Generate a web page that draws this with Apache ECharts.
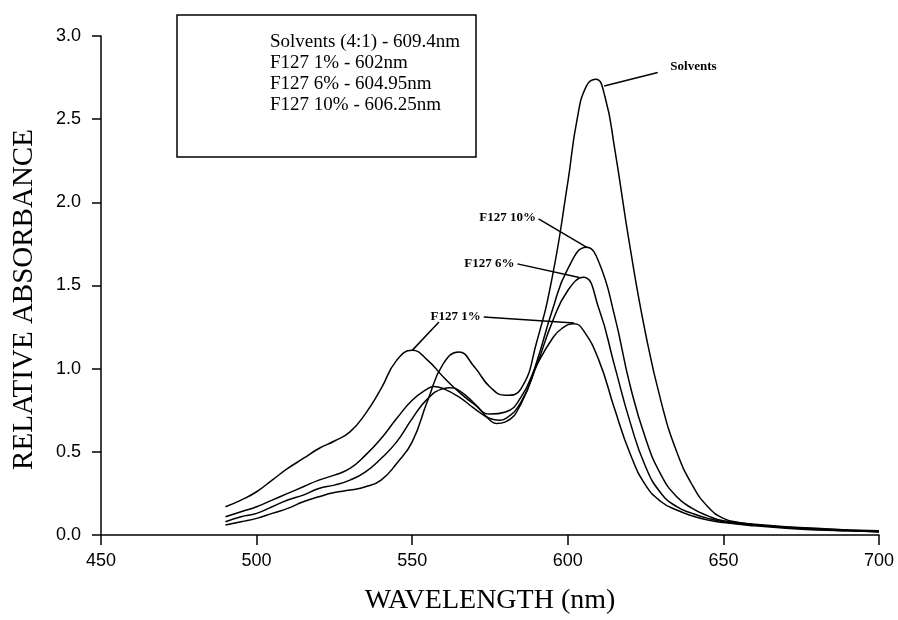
<!DOCTYPE html>
<html>
<head>
<meta charset="utf-8">
<script src="https://cdn.jsdelivr.net/npm/echarts@6/dist/echarts.min.js"></script>
<style>
  html, body { margin: 0; padding: 0; background: #fff; }
  #absChart { width: 898px; height: 620px; }
</style>
</head>
<body>
<div id="absChart"></div>
<script>
// spectra (nm / relative absorbance)
const solventsNm = [490, 495, 500, 505, 510, 515, 520, 525, 530, 535, 540, 545, 550, 555, 560, 565, 570, 575, 580, 585, 590, 595, 600, 603, 606, 609, 612, 615, 620, 625, 630, 635, 640, 645, 650, 655, 660, 670, 680, 690, 700]
const solventsAbs = [0.06, 0.08, 0.10, 0.13, 0.16, 0.20, 0.23, 0.255, 0.27, 0.29, 0.33, 0.43, 0.56, 0.81, 1.03, 1.10, 1.01, 0.89, 0.84, 0.88, 1.16, 1.55, 2.12, 2.50, 2.70, 2.74, 2.63, 2.33, 1.73, 1.21, 0.80, 0.50, 0.30, 0.17, 0.10, 0.075, 0.062, 0.047, 0.037, 0.03, 0.025]

const f1Nm = [490, 495, 500, 505, 510, 515, 520, 525, 530, 535, 540, 545, 550, 555, 560, 565, 570, 575, 580, 585, 590, 595, 598, 602, 605, 610, 615, 620, 625, 630, 635, 640, 645, 650, 660, 670, 680, 690, 700]
const f1Abs = [0.17, 0.21, 0.26, 0.33, 0.40, 0.46, 0.52, 0.565, 0.62, 0.73, 0.88, 1.05, 1.11, 1.05, 0.95, 0.86, 0.785, 0.727, 0.74, 0.83, 1.02, 1.18, 1.24, 1.27, 1.23, 1.05, 0.76, 0.49, 0.30, 0.20, 0.15, 0.115, 0.09, 0.075, 0.055, 0.04, 0.03, 0.025, 0.02]

const f6Nm = [490, 495, 500, 505, 510, 515, 520, 525, 530, 535, 540, 545, 550, 555, 557, 560, 565, 570, 575, 578, 580, 585, 590, 595, 600, 605, 610, 615, 620, 625, 630, 635, 640, 645, 650, 660, 670, 680, 690, 700]
const f6Abs = [0.11, 0.14, 0.17, 0.21, 0.25, 0.29, 0.33, 0.36, 0.40, 0.48, 0.58, 0.70, 0.81, 0.88, 0.893, 0.88, 0.83, 0.76, 0.70, 0.69, 0.70, 0.80, 1.02, 1.28, 1.47, 1.55, 1.36, 1.02, 0.68, 0.41, 0.25, 0.17, 0.13, 0.10, 0.08, 0.06, 0.045, 0.035, 0.025, 0.02]

const f10Nm = [490, 495, 500, 505, 510, 515, 520, 525, 530, 535, 540, 545, 550, 555, 560, 562, 565, 570, 575, 577, 580, 585, 590, 595, 600, 606, 610, 615, 620, 625, 630, 635, 640, 645, 650, 660, 670, 680, 690, 700]
const f10Abs = [0.08, 0.11, 0.13, 0.17, 0.21, 0.24, 0.28, 0.30, 0.33, 0.38, 0.46, 0.56, 0.70, 0.82, 0.88, 0.885, 0.87, 0.79, 0.69, 0.67, 0.68, 0.79, 1.04, 1.35, 1.60, 1.73, 1.64, 1.32, 0.90, 0.58, 0.36, 0.23, 0.16, 0.115, 0.085, 0.065, 0.05, 0.04, 0.03, 0.02]

const legendLines = ['Solvents (4:1) - 609.4nm', 'F127 1% - 602nm', 'F127 6% - 604.95nm', 'F127 10% - 606.25nm']
const xTicks = [450, 500, 550, 600, 650, 700]
const yTicks = [0, 0.5, 1.0, 1.5, 2.0, 2.5, 3.0]

const serif = '"Liberation Serif", "DejaVu Serif", serif'
const sans = '"Liberation Sans", Arial, sans-serif'

function pairs(xs, ys) {
  return xs.map((x, i) => [x, ys[i]])
}

// leader line from the label to the curve, label sits at the start end
function leader(from, to, text, extra) {
  return [
    { coord: from, label: Object.assign({ show: !!text, formatter: text || '' }, extra) },
    { coord: to }
  ]
}

function curve(name, xs, ys, leaders) {
  return {
    name: name,
    type: 'line',
    data: pairs(xs, ys),
    smooth: true,
    showSymbol: false,
    lineStyle: { color: '#000', width: 1.5 },
    animation: false,
    markLine: {
      silent: true,
      animation: false,
      symbol: ['none', 'none'],
      lineStyle: { color: '#000', width: 1.5, type: 'solid' },
      label: {
        position: 'start',
        distance: 3,
        color: '#000',
        fontFamily: serif,
        fontWeight: 'bold',
        fontSize: 13
      },
      data: leaders
    }
  }
}

const chart = echarts.init(document.getElementById('absChart'))

chart.setOption({
  backgroundColor: '#fff',
  // the boxed list of peak positions
  title: {
    text: legendLines.join('\n'),
    left: 177,
    top: 15,
    padding: [17, 16, 41, 93],
    borderColor: '#000',
    borderWidth: 1.5,
    textStyle: {
      fontFamily: serif,
      fontWeight: 'normal',
      fontSize: 19,
      lineHeight: 21,
      color: '#000'
    }
  },
  grid: { left: 101, right: 19, top: 36, bottom: 80 },
  xAxis: {
    type: 'value',
    min: xTicks[0],
    max: xTicks[xTicks.length - 1],
    interval: 50,
    name: 'WAVELENGTH (nm)',
    nameLocation: 'middle',
    nameGap: 52,
    nameTextStyle: { fontFamily: serif, fontSize: 28, color: '#000' },
    axisLine: { lineStyle: { color: '#000', width: 1.5 } },
    axisTick: { length: 10, lineStyle: { color: '#000', width: 1.5 } },
    axisLabel: { margin: 17, color: '#000', fontFamily: sans, fontSize: 18 },
    splitLine: { show: false }
  },
  yAxis: {
    type: 'value',
    min: yTicks[0],
    max: yTicks[yTicks.length - 1],
    interval: 0.5,
    name: 'RELATIVE ABSORBANCE',
    nameLocation: 'middle',
    nameGap: 62,
    nameTextStyle: { fontFamily: serif, fontSize: 29, color: '#000', padding: [0, 28, 0, 0] },
    axisLine: { show: true, lineStyle: { color: '#000', width: 1.5 } },
    axisTick: { show: true, length: 9, lineStyle: { color: '#000', width: 1.5 } },
    axisLabel: {
      margin: 20,
      color: '#000',
      fontFamily: sans,
      fontSize: 18,
      formatter: v => v.toFixed(1)
    },
    splitLine: { show: false }
  },
  series: [
    curve('Solvents', solventsNm, solventsAbs, [
      leader([628.9, 2.78], [611.7, 2.70], 'Solvents', { distance: [13, 24] })
    ]),
    curve('F127 1%', f1Nm, f1Abs, [
      leader([573, 1.31], [602, 1.274], 'F127 1%'),
      leader([558.6, 1.28], [550, 1.11])
    ]),
    curve('F127 6%', f6Nm, f6Abs, [
      leader([583.8, 1.63], [603.7, 1.548], 'F127 6%')
    ]),
    curve('F127 10%', f10Nm, f10Abs, [
      leader([590.6, 1.90], [606.4, 1.726], 'F127 10%')
    ])
  ]
})
</script>
</body>
</html>
